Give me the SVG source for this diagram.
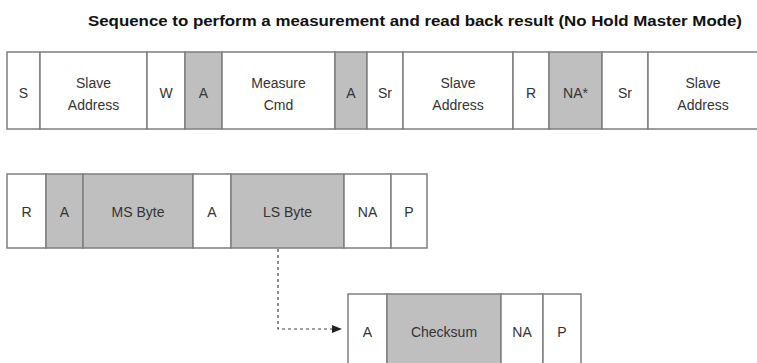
<svg xmlns="http://www.w3.org/2000/svg" width="757" height="363" viewBox="0 0 757 363">
  <style>
    .cell { stroke: #7f7f7f; stroke-width: 1.5; }
    .w { fill: #ffffff; }
    .g { fill: #bfbfbf; }
    .t { font-family: "Liberation Sans", Arial, sans-serif; font-size: 14px; fill: #333333; text-anchor: middle; }
    .title { font-family: "Liberation Sans", Arial, sans-serif; font-size: 14.5px; font-weight: bold; fill: #111111; }
    .conn { stroke: #444444; stroke-width: 1.2; stroke-dasharray: 3 3; fill: none; }
  </style>
  <defs>
    <marker id="arrow" markerWidth="10" markerHeight="8" refX="9" refY="4" orient="auto" markerUnits="userSpaceOnUse">
      <path d="M0,0 L10,4 L0,8 Z" fill="#222222"/>
    </marker>
  </defs>
  <rect width="757" height="363" fill="#ffffff"/>

  <text class="title" x="88" y="26" textLength="654" lengthAdjust="spacingAndGlyphs">Sequence to perform a measurement and read back result (No Hold Master Mode)</text>

  <!-- Write phase and repeated start row -->
  <g id="row1">
    <g id="r1-s"><rect class="cell w" x="7" y="52" width="33" height="77"/><text class="t" x="23.5" y="98">S</text></g>
    <g id="r1-addr1"><rect class="cell w" x="40" y="52" width="107" height="77"/><text class="t" x="93.5" y="88">Slave</text><text class="t" x="93.5" y="110">Address</text></g>
    <g id="r1-w"><rect class="cell w" x="147" y="52" width="38" height="77"/><text class="t" x="166" y="98">W</text></g>
    <g id="r1-a1"><rect class="cell g" x="185" y="52" width="37" height="77"/><text class="t" x="203.5" y="98">A</text></g>
    <g id="r1-cmd"><rect class="cell w" x="222" y="52" width="113" height="77"/><text class="t" x="278.5" y="88">Measure</text><text class="t" x="278.5" y="110">Cmd</text></g>
    <g id="r1-a2"><rect class="cell g" x="335" y="52" width="32" height="77"/><text class="t" x="351" y="98">A</text></g>
    <g id="r1-sr1"><rect class="cell w" x="367" y="52" width="36" height="77"/><text class="t" x="385" y="98">Sr</text></g>
    <g id="r1-addr2"><rect class="cell w" x="403" y="52" width="110" height="77"/><text class="t" x="458" y="88">Slave</text><text class="t" x="458" y="110">Address</text></g>
    <g id="r1-r"><rect class="cell w" x="513" y="52" width="36" height="77"/><text class="t" x="531" y="98">R</text></g>
    <g id="r1-na"><rect class="cell g" x="549" y="52" width="53" height="77"/><text class="t" x="575.5" y="98">NA*</text></g>
    <g id="r1-sr2"><rect class="cell w" x="602" y="52" width="46" height="77"/><text class="t" x="625" y="98">Sr</text></g>
    <g id="r1-addr3"><rect class="cell w" x="648" y="52" width="112" height="77"/><text class="t" x="703" y="88">Slave</text><text class="t" x="703" y="110">Address</text></g>
  </g>

  <!-- Read phase row -->
  <g id="row2">
    <g id="r2-r"><rect class="cell w" x="7" y="174" width="39" height="74"/><text class="t" x="26.5" y="217">R</text></g>
    <g id="r2-a1"><rect class="cell g" x="46" y="174" width="37" height="74"/><text class="t" x="64.5" y="217">A</text></g>
    <g id="r2-ms"><rect class="cell g" x="83" y="174" width="110" height="74"/><text class="t" x="138" y="217">MS Byte</text></g>
    <g id="r2-a2"><rect class="cell w" x="193" y="174" width="38" height="74"/><text class="t" x="212" y="217">A</text></g>
    <g id="r2-ls"><rect class="cell g" x="231" y="174" width="113" height="74"/><text class="t" x="287.5" y="217">LS Byte</text></g>
    <g id="r2-na"><rect class="cell w" x="344" y="174" width="47" height="74"/><text class="t" x="367.5" y="217">NA</text></g>
    <g id="r2-p"><rect class="cell w" x="391" y="174" width="36" height="74"/><text class="t" x="409" y="217">P</text></g>
  </g>

  <!-- Optional checksum row -->
  <g id="row3">
    <g id="r3-a"><rect class="cell w" x="348" y="294" width="39" height="80"/><text class="t" x="367.5" y="337">A</text></g>
    <g id="r3-crc"><rect class="cell g" x="387" y="294" width="114" height="80"/><text class="t" x="444" y="337">Checksum</text></g>
    <g id="r3-na"><rect class="cell w" x="501" y="294" width="42" height="80"/><text class="t" x="522" y="337">NA</text></g>
    <g id="r3-p"><rect class="cell w" x="543" y="294" width="38" height="80"/><text class="t" x="562" y="337">P</text></g>
  </g>

  <g id="connectors">
    <path class="conn" d="M278,249 V329 H341" marker-end="url(#arrow)"/>
  </g>
</svg>
